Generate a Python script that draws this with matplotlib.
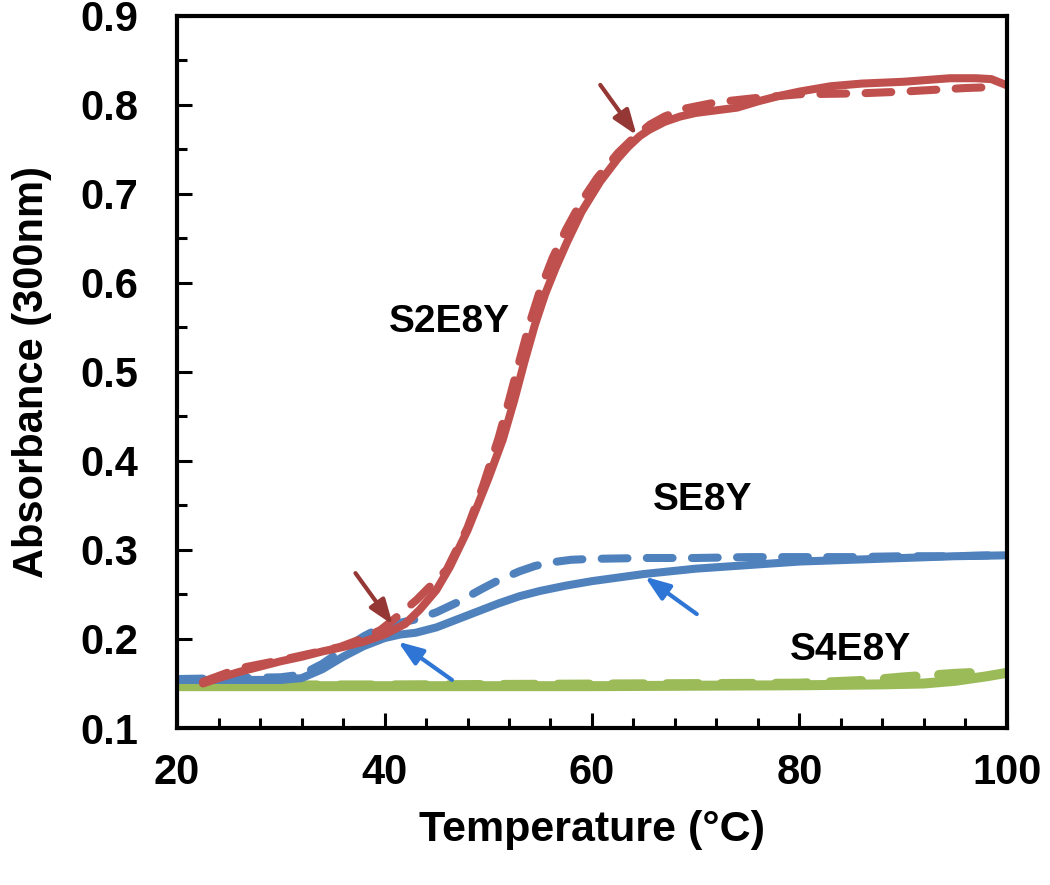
import matplotlib
matplotlib.use("Agg")
import matplotlib.pyplot as plt
from matplotlib.ticker import MultipleLocator

plt.rcParams['font.family'] = ['Liberation Sans', 'DejaVu Sans']
plt.rcParams['font.weight'] = 'bold'

# S2E8Y
s2_solid_t = [22.5, 24, 26, 28, 30, 32, 34, 36, 38, 40, 42, 43.4, 45, 46.3, 48, 48.9, 50, 51.4,
              52.5, 53.5, 54.5, 55.5, 56.5, 57.6, 59, 60.8, 62.5, 63.5, 64.6, 65.5, 67, 68.5,
              70, 72, 74, 76, 78, 80, 83, 86, 90, 94.5, 97, 98.5, 100]
s2_solid_a = [0.150, 0.156, 0.163, 0.169, 0.175, 0.180, 0.186, 0.191, 0.197, 0.205, 0.217, 0.233,
              0.255, 0.281, 0.322, 0.348, 0.380, 0.424, 0.468, 0.512, 0.553, 0.588, 0.617, 0.646,
              0.680, 0.714, 0.740, 0.753, 0.765, 0.772, 0.781, 0.787, 0.791, 0.794, 0.797, 0.804,
              0.810, 0.815, 0.821, 0.824, 0.826, 0.830, 0.830, 0.829, 0.822]
s2_dash_t = [22.5, 26, 29.9, 33, 35.7, 38, 39.6, 40.8, 43.1, 46, 48, 49.5, 51, 52, 53, 54, 55,
             56.2, 57.5, 59, 60.5, 62.5, 64, 65.6, 67, 69, 72, 76, 80, 85.8, 90, 96, 98.5]
s2_dash_a = [0.152, 0.167, 0.176, 0.184, 0.191, 0.201, 0.210, 0.221, 0.244, 0.278, 0.325, 0.372,
             0.426, 0.468, 0.512, 0.555, 0.592, 0.628, 0.660, 0.692, 0.718, 0.746, 0.763, 0.778,
             0.787, 0.796, 0.803, 0.808, 0.812, 0.813, 0.815, 0.819, 0.820]

# SE8Y
se_solid_t = [20, 25, 30, 32, 34, 36, 38, 40, 41.5, 43, 45, 47, 49, 51, 53, 55, 57.5, 60, 62.5,
              65, 70, 75, 80, 85, 90, 95, 100]
se_solid_a = [0.154, 0.154, 0.154, 0.156, 0.166, 0.180, 0.192, 0.201, 0.205, 0.207, 0.213, 0.222,
              0.231, 0.240, 0.248, 0.254, 0.260, 0.265, 0.269, 0.273, 0.279, 0.283, 0.287, 0.289,
              0.291, 0.293, 0.294]
se_dash_t = [20, 25, 30, 32, 34, 36, 38, 39.5, 41, 43, 45, 47, 49.5, 51, 53, 54.5, 56, 58, 60,
             65, 70, 75, 80, 85, 90, 95, 98.5]
se_dash_a = [0.155, 0.156, 0.157, 0.160, 0.172, 0.188, 0.203, 0.212, 0.217, 0.222, 0.230, 0.241,
             0.257, 0.266, 0.276, 0.282, 0.286, 0.289, 0.290, 0.291, 0.291, 0.292, 0.292, 0.292,
             0.293, 0.293, 0.294]

# S4E8Y
s4_solid_t = [20, 40, 60, 80, 88, 92, 95, 98, 100]
s4_solid_a = [0.147, 0.147, 0.147, 0.148, 0.149, 0.150, 0.153, 0.158, 0.162]
s4_dash_t = [20, 40, 60, 80, 86, 90, 95, 98.5]
s4_dash_a = [0.148, 0.148, 0.149, 0.150, 0.153, 0.157, 0.161, 0.163]

red = '#C0504D'
blue = '#4F81BD'
green = '#9BBB59'
dash = (0, (3.2, 2.4))

fig = plt.figure(figsize=(10.5, 8.85), dpi=100)
ax = fig.add_axes([0.1686, 0.1774, 0.7904, 0.8046])

ax.plot(s4_dash_t, s4_dash_a, color=green, lw=7, ls=dash, dash_capstyle='round')
ax.plot(s4_solid_t, s4_solid_a, color=green, lw=7.2, solid_capstyle='round')
ax.plot(se_dash_t, se_dash_a, color=blue, lw=5.8, ls=dash, dash_capstyle='round')
ax.plot(se_solid_t, se_solid_a, color=blue, lw=5.8, solid_capstyle='round')
ax.plot(s2_dash_t, s2_dash_a, color=red, lw=5.8, ls=dash, dash_capstyle='round')
ax.plot(s2_solid_t, s2_solid_a, color=red, lw=5.8, solid_capstyle='round')

# arrows marking transitions
head = '-|>,head_length=1.5,head_width=0.55'
arr_red = dict(arrowstyle=head, color='#953735', lw=3, shrinkA=0, shrinkB=0)
arr_blue = dict(arrowstyle=head, color='#2E75D5', lw=3, shrinkA=0, shrinkB=0)
ax.annotate('', xy=(64.3, 0.766), xytext=(60.8, 0.8225), arrowprops=arr_red)
ax.annotate('', xy=(40.8, 0.216), xytext=(37.2, 0.274), arrowprops=arr_red)
ax.annotate('', xy=(41.3, 0.197), xytext=(46.5, 0.154), arrowprops=arr_blue)
ax.annotate('', xy=(65.1, 0.270), xytext=(70.1, 0.228), arrowprops=arr_blue)

ax.text(46.3, 0.556, 'S2E8Y', fontsize=28, fontweight='bold', ha='center', va='center')
ax.text(70.7, 0.356, 'SE8Y', fontsize=28, fontweight='bold', ha='center', va='center')
ax.text(84.9, 0.188, 'S4E8Y', fontsize=28, fontweight='bold', ha='center', va='center')

ax.set_xlim(20, 100)
ax.set_ylim(0.1, 0.9)
ax.xaxis.set_major_locator(MultipleLocator(20))
ax.xaxis.set_minor_locator(MultipleLocator(4))
ax.yaxis.set_major_locator(MultipleLocator(0.1))
ax.yaxis.set_minor_locator(MultipleLocator(0.05))
ax.yaxis.set_major_formatter(plt.FuncFormatter(lambda v, p: f'{v:.1f}'))

for s in ax.spines.values():
    s.set_linewidth(3)
ax.tick_params(which='major', direction='in', length=11, width=2.2, labelsize=30)
ax.tick_params(which='minor', direction='in', length=7, width=2.2)
ax.tick_params(axis='x', which='major', pad=18)
ax.tick_params(axis='y', which='major', pad=28)
for lab in ax.get_xticklabels() + ax.get_yticklabels():
    lab.set_fontweight('bold')

ax.set_xlabel('Temperature (°C)', fontsize=31, fontweight='bold', labelpad=12)
ax.set_ylabel('Absorbance (300nm)', fontsize=30, fontweight='bold', labelpad=20)

fig.savefig('out.png', dpi=100)
